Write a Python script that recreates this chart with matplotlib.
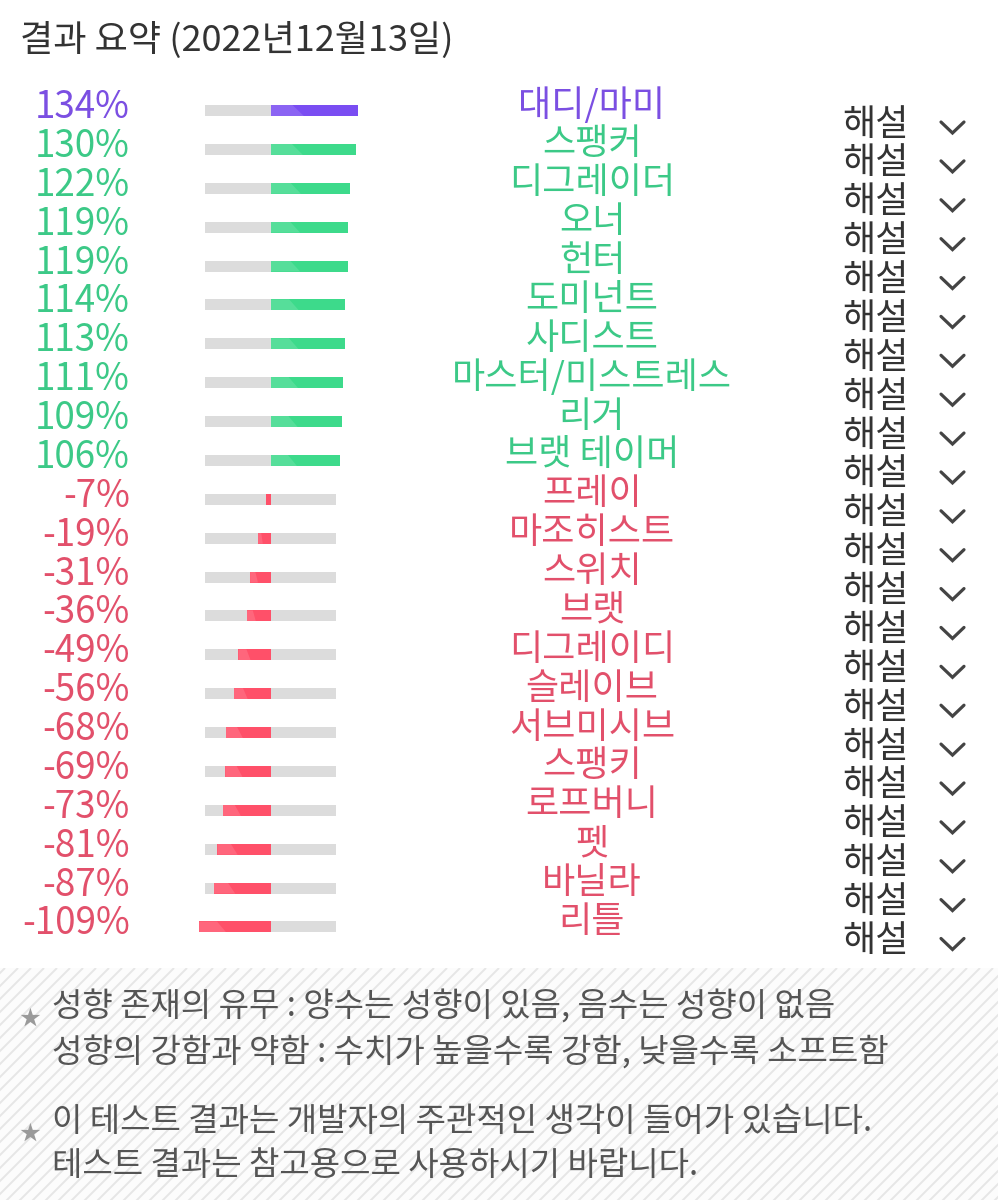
import matplotlib
matplotlib.use('Agg')
import matplotlib.pyplot as plt
import matplotlib.transforms as mtransforms
from matplotlib.patches import Rectangle, Polygon
from matplotlib.collections import LineCollection

# ---------------- data ----------------
title = "결과 요약 (2022년12월13일)"
names = ["대디/마미", "스팽커", "디그레이더", "오너", "헌터", "도미넌트", "사디스트",
         "마스터/미스트레스", "리거", "브랫 테이머", "프레이", "마조히스트", "스위치",
         "브랫", "디그레이디", "슬레이브", "서브미시브", "스팽키", "로프버니", "펫",
         "바닐라", "리틀"]
values = [134, 130, 122, 119, 119, 114, 113, 111, 109, 106, -7, -19, -31, -36,
          -49, -56, -68, -69, -73, -81, -87, -109]
button_label = "해설"
notes = [["성향 존재의 유무 : 양수는 성향이 있음, 음수는 성향이 없음",
          "성향의 강함과 약함 : 수치가 높을수록 강함, 낮을수록 소프트함"],
         ["이 테스트 결과는 개발자의 주관적인 생각이 들어가 있습니다.",
          "테스트 결과는 참고용으로 사용하시기 바랍니다."]]
track_range = (-100, 100)

# ---------------- style ----------------
plt.rcParams['font.family'] = ['Noto Sans CJK KR', 'DejaVu Sans']
W, H = 998, 1200
fig = plt.figure(figsize=(W / 100, H / 100), dpi=100)
fig.patch.set_facecolor('white')

ZERO_PX, PX_PER = 270.5, 0.655
ROW0, ROW_H = 110.5, 38.88

ax = fig.add_axes([0, 0, 1, 1])
ax.set_xlim((0 - ZERO_PX) / PX_PER, (W - ZERO_PX) / PX_PER)
ax.set_ylim((H - ROW0) / ROW_H, (0 - ROW0) / ROW_H)
ax.axis('off')

# x in pixels (figure), y in data rows
xpx_trans = mtransforms.blended_transform_factory(
    mtransforms.Affine2D().scale(1.0 / W, 1.0 / H) + fig.transFigure, ax.transData)
# full pixel transform (top-down y)
pxT = mtransforms.Affine2D().scale(1.0 / W, -1.0 / H).translate(0, 1) + fig.transFigure

PURPLE_T, GREEN_T, RED_T = '#7B4FE2', '#3CC987', '#E2506B'
PURPLE_B, GREEN_B, RED_B = '#7A4DF2', '#3DDA8B', '#FF5069'

ymax = values.index(max(values))
rows = list(range(len(values)))
text_colors, bar_colors = [], []
for i, v in enumerate(values):
    if i == ymax:
        text_colors.append(PURPLE_T); bar_colors.append(PURPLE_B)
    elif v >= 0:
        text_colors.append(GREEN_T); bar_colors.append(GREEN_B)
    else:
        text_colors.append(RED_T); bar_colors.append(RED_B)

bh = 11.0 / ROW_H
ax.barh(rows, track_range[1] - track_range[0], left=track_range[0], height=bh,
        color='#DCDCDC', zorder=1)
bars = ax.barh(rows, values, left=0, height=bh, color=bar_colors, zorder=2)

# subtle lighter highlight on the left part of each value bar
for b, v in zip(bars, values):
    x0, y0 = b.get_x(), b.get_y()
    w, h = b.get_width(), b.get_height()
    lo, hi = min(x0, x0 + w), max(x0, x0 + w)
    length = hi - lo
    if length < 8:
        continue
    a = lo + length * 0.25
    c = lo + length * 0.38
    poly = Polygon([(lo, y0), (a, y0), (c, y0 + h), (lo, y0 + h)],
                   closed=True, facecolor='white', alpha=0.13, lw=0, zorder=3)
    ax.add_patch(poly)

# title
fig.text(20 / W, 1 - 40 / H, title, fontsize=26, color='#333333',
         ha='left', va='center')

for i, (name, v) in enumerate(zip(names, values)):
    ax.text(130, i - 3 / ROW_H, f"{v}%", transform=xpx_trans, fontsize=26.5,
            color=text_colors[i], ha='right', va='center')
    ax.text(592, i - 5 / ROW_H, name, transform=xpx_trans, fontsize=26,
            color=text_colors[i], ha='center', va='center')
    ax.text(876, i + 14 / ROW_H, button_label, transform=xpx_trans, fontsize=26,
            color='#333333', ha='center', va='center')
    yc = i + 17 / ROW_H
    ax.plot([941, 952.5, 964], [yc - 5.5 / ROW_H, yc + 5.5 / ROW_H, yc - 5.5 / ROW_H],
            transform=xpx_trans, color='#444444', lw=2.3, solid_capstyle='round',
            solid_joinstyle='miter')

# notes box with diagonal stripes
box_top = 968
box = Rectangle((0, box_top), W, H - box_top, transform=pxT, facecolor='#FCFCFC',
                lw=0, zorder=0)
fig.patches.append(box)
hgt = H - box_top
segs = []
x = -hgt
while x < W + 20:
    segs.append([(x, H + 5), (x + hgt + 5, box_top)])
    x += 13
stripes = LineCollection(segs, colors='#E6E6E6', linewidths=1.4, transform=pxT,
                         zorder=0.5)
stripes.set_clip_path(box)
fig.add_artist(stripes)

note_y = [[1007, 1053], [1122, 1166]]
for block, ys in zip(notes, note_y):
    fig.text(30 / W, 1 - (ys[0] + 12) / H, "★", fontsize=15, color='#9A9A9A',
             ha='center', va='center')
    for line, y in zip(block, ys):
        fig.text(52 / W, 1 - y / H, line, fontsize=23.8, color='#555555',
                 ha='left', va='center')

fig.savefig('out.png', dpi=100, facecolor='white')
